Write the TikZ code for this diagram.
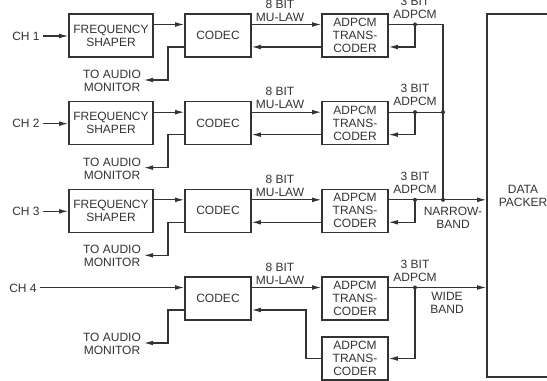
\documentclass[tikz,border=0pt]{standalone}
\usepackage{fontspec}
\setmainfont{Liberation Sans}
\usetikzlibrary{arrows.meta,calc}
\definecolor{ink}{HTML}{333333}
\begin{document}
\begin{tikzpicture}[x=0.75pt,y=-0.75pt,
  every node/.style={font=\fontsize{9}{9.75}\selectfont, text=ink, align=center, inner sep=0pt},
  blk/.style={draw=ink, line width=0.9pt, minimum height=32.25pt},
  shaperbox/.style={blk, minimum width=63pt},
  codecbox/.style={blk, minimum width=49.5pt},
  lbl/.style={inner sep=2pt},
  wire/.style={draw=ink, line width=0.9pt},
  arr/.style={wire, -{Latex[length=7pt,width=3.6pt]}}
]
\useasboundingbox (0,0) rectangle (547,381);
\clip (0,0) rectangle (547,381);

\node[draw=ink, line width=0.9pt, minimum width=54pt, minimum height=272.25pt] (packer) at (523,195.5) {DATA\\PACKER};

\foreach \k/\T in {1/14,2/101.67,3/189.33}{
  \node[shaperbox] (shaper\k) at (111,\T+21.5) {FREQUENCY\\SHAPER};
  \node[codecbox] (codec\k) at (218,\T+21.5) {CODEC};
  \node[codecbox] (trans\k) at (355,\T+21.5) {ADPCM\\TRANS-\\CODER};
  \node[lbl] (ch\k) at (26,\T+22) {CH \k};
  \node[lbl] (aud\k) at (112,\T+67) {TO AUDIO\\MONITOR};
  \node (mu\k) at (280,\T-3.5) {8 BIT\\MU-LAW};
  \node (ad\k) at (415,\T-6.5) {3 BIT\\ADPCM};
  \coordinate (bend\k) at (168,\T+66);
  \coordinate (dot\k) at (415,\T+10.5);
  \coordinate (bus\k) at (443,\T+10.5);
  \draw[arr] (ch\k.east) -- (ch\k.east -| shaper\k.west);
  \draw[arr] (shaper\k.east |- dot\k) -- (codec\k.west |- dot\k);
  \draw[arr] ([yshift=-8.6pt]codec\k.west) -| (bend\k) -- (bend\k -| aud\k.east);
  \draw[arr] (codec\k.east |- dot\k) -- (trans\k.west |- dot\k);
  \draw[arr] ([yshift=-8.6pt]trans\k.west) -- ([yshift=-8.6pt]codec\k.east);
  \draw[arr] (dot\k) |- ([yshift=-8.6pt]trans\k.east);
  \fill[ink] (dot\k) circle (2);
}
\draw[wire] (trans1.east |- dot1) -- (bus1) -- (bus3);
\draw[wire] (trans2.east |- dot2) -- (bus2);
\draw[arr] (trans3.east |- dot3) -- (packer.west |- dot3);
\fill[ink] (bus2) circle (2);
\fill[ink] (bus3) circle (2);
\node (narrow) at (453,217.5) {NARROW-\\BAND};

% row 4
\node[codecbox] (codec4) at (218,298.5) {CODEC};
\node[codecbox] (trans4) at (355,298.5) {ADPCM\\TRANS-\\CODER};
\node[codecbox] (trans5) at (355,358.5) {ADPCM\\TRANS-\\CODER};
\node[lbl] (ch4) at (23,288) {CH 4};
\node[lbl] (aud4) at (112,344) {TO AUDIO\\MONITOR};
\node (mu4) at (280,273.5) {8 BIT\\MU-LAW};
\node (ad4) at (415,270.5) {3 BIT\\ADPCM};
\node (wide) at (447,303) {WIDE\\BAND};
\coordinate (bend4) at (168,343);
\coordinate (dot4) at (415,287.5);
\coordinate (j4) at (306,358.5);
\draw[arr] (ch4.east |- dot4) -- (codec4.west |- dot4);
\draw[arr] ([yshift=-8.6pt]codec4.west) -| (bend4) -- (bend4 -| aud4.east);
\draw[arr] (codec4.east |- dot4) -- (trans4.west |- dot4);
\draw[arr] (trans4.east |- dot4) -- (packer.west |- dot4);
\draw[arr] (dot4) |- (trans5.east);
\draw[arr] (trans5.west) -- (j4) |- ([yshift=-8.6pt]codec4.east);
\fill[ink] (dot4) circle (2);
\end{tikzpicture}
\end{document}
